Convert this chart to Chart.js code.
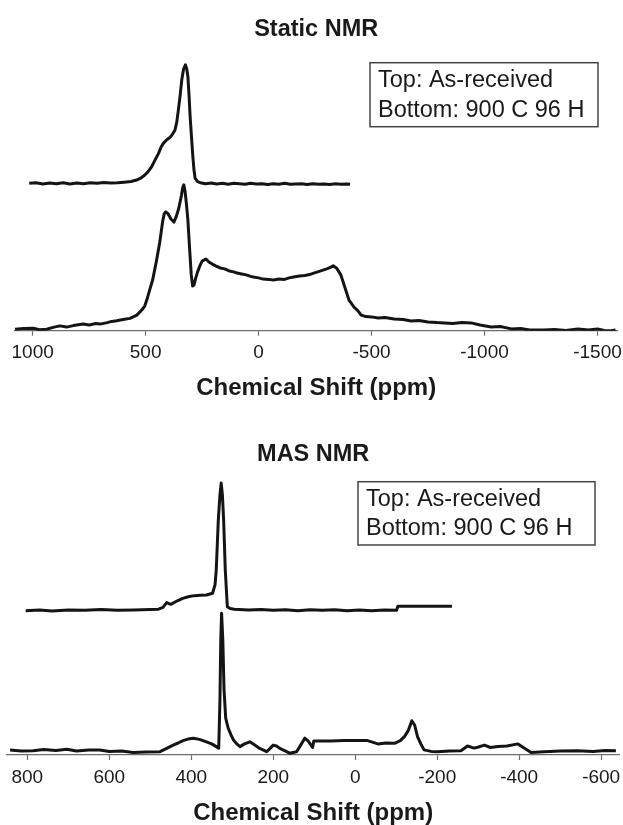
<!DOCTYPE html>
<html>
<head>
<meta charset="utf-8">
<script src="https://cdn.jsdelivr.net/npm/chart.js@4.4.1/dist/chart.umd.min.js"></script>
<style>
  html, body { margin: 0; padding: 0; background: #fff; overflow: hidden; }
  #staticWrap { position: absolute; left: 0; top: 0; width: 623px; height: 410px; }
  #masWrap { position: absolute; left: 0; top: 410px; width: 623px; height: 420px; }
</style>
</head>
<body>
<div id="staticWrap"><canvas id="staticChart" width="623" height="410"></canvas></div>
<div id="masWrap"><canvas id="masChart" width="623" height="420"></canvas></div>
<script>
// [ppm, intensity (a.u., traces offset vertically)]
var staticAsReceived = [
  [1015, 49.1], [985, 49.3], [955, 48.9], [925, 49.2], [895, 49.0], [865, 49.3], [835, 48.9], [805, 49.2],
  [775, 49.0], [745, 49.3], [715, 49.1], [685, 49.4], [655, 49.2], [625, 49.3], [595, 49.5], [565, 49.7],
  [540, 50.2], [520, 50.9], [505, 51.8], [490, 52.9], [473, 54.7], [458, 56.9], [443, 59.1], [432, 61.1],
  [421, 62.5], [405, 63.7], [391, 64.5], [380, 65.6], [370, 66.9], [362, 69.6], [355, 73.6], [347, 78.6],
  [340, 83.6], [332, 87.2], [324, 88.6], [318, 87.2], [313, 84.7], [308, 78.6], [303, 71.3], [297, 64.6],
  [291, 58.0], [286, 53.6], [281, 50.8], [270, 49.7], [258, 49.3], [235, 49.0], [210, 49.2], [185, 48.9],
  [160, 49.1], [135, 48.8], [110, 49.1], [85, 49.0], [60, 48.8], [35, 49.1], [10, 48.9], [-15, 49.0],
  [-40, 48.7], [-65, 49.0], [-90, 48.8], [-115, 49.1], [-140, 48.8], [-165, 48.9], [-190, 49.0], [-215, 48.7],
  [-240, 49.0], [-265, 48.8], [-290, 48.9], [-315, 48.7], [-340, 49.0], [-365, 48.8], [-390, 48.9], [-405, 48.8]
];

var staticHeated = [
  [1078, 0.5], [1040, 0.7], [997, 0.8], [970, 0.3], [938, 0.5], [910, 1.1], [879, 1.6], [850, 1.2],
  [820, 1.7], [777, 2.2], [750, 1.9], [720, 2.4], [702, 2.2], [670, 2.7], [650, 3.1], [628, 3.3],
  [600, 3.7], [569, 4.1], [539, 5.2], [517, 6.9], [504, 8.2], [495, 10.2], [482, 13.6], [469, 16.9],
  [453, 22.9], [438, 29.2], [425, 36.2], [418, 38.9], [411, 39.6], [400, 38.9], [388, 37.2], [375, 36.2],
  [365, 37.9], [353, 40.9], [342, 44.9], [336, 47.6], [331, 48.6], [325, 46.2], [319, 41.9], [313, 36.9],
  [305, 26.9], [298, 18.6], [292, 14.9], [286, 15.2], [278, 17.6], [270, 19.6], [260, 21.6], [250, 23.2],
  [240, 23.6], [233, 23.9], [220, 22.9], [205, 22.2], [190, 21.6], [170, 20.9], [150, 20.6], [130, 19.9],
  [110, 19.6], [95, 19.2], [75, 18.9], [55, 18.6], [35, 18.1], [23, 17.9], [0, 17.6], [-20, 17.2],
  [-45, 17.1], [-66, 16.9], [-90, 17.2], [-115, 17.1], [-135, 17.6], [-155, 17.9], [-180, 18.2], [-205, 18.4],
  [-225, 18.7], [-244, 19.2], [-265, 19.7], [-285, 20.2], [-305, 20.7], [-320, 21.2], [-330, 21.6], [-345, 20.9],
  [-364, 18.6], [-380, 14.9], [-400, 10.2], [-410, 9.2], [-422, 7.9], [-440, 6.6], [-454, 5.2], [-475, 4.7],
  [-500, 4.6], [-529, 4.2], [-560, 4.4], [-600, 3.9], [-640, 3.7], [-675, 3.2], [-710, 3.4], [-750, 2.9],
  [-790, 2.7], [-821, 2.6], [-860, 2.4], [-900, 2.7], [-941, 2.6], [-980, 1.9], [-1030, 1.2], [-1070, 1.4],
  [-1119, 0.6], [-1160, 0.7], [-1200, 0.2], [-1264, 0.2], [-1310, 0.4], [-1360, 0.1], [-1414, 0.6], [-1460, 0.2],
  [-1500, 0.6], [-1530, 0.1], [-1560, 0.0], [-1580, 0.2]
];

var masAsReceived = [
  [804, 48.1], [770, 48.3], [740, 48.0], [700, 48.3], [660, 48.2], [620, 48.5], [580, 48.2], [540, 48.3],
  [500, 48.5], [480, 48.6], [469, 49.2], [460, 50.8], [450, 50.2], [435, 51.3], [421, 52.2], [405, 52.8],
  [392, 53.1], [378, 53.2], [363, 53.3], [348, 53.9], [342, 56.7], [339, 61.7], [334, 78.3], [330, 86.7],
  [327, 90.6], [324, 86.7], [321, 78.3], [317, 61.7], [312, 49.4], [305, 48.8], [295, 48.6], [260, 48.3],
  [230, 48.5], [200, 48.2], [170, 48.4], [140, 48.1], [110, 48.4], [80, 48.2], [50, 48.4], [20, 48.1],
  [-10, 48.3], [-40, 48.1], [-70, 48.3], [-101, 48.2], [-104, 49.6], [-236, 49.6]
];

var masHeated = [
  [842, 1.7], [815, 1.3], [786, 1.4], [760, 1.8], [730, 1.5], [704, 1.9], [680, 1.3], [650, 1.7],
  [623, 1.7], [600, 1.2], [570, 1.3], [542, 0.8], [510, 1.0], [476, 1.1], [460, 2.2], [444, 3.3],
  [432, 4.0], [420, 4.8], [408, 5.3], [395, 5.6], [380, 5.2], [363, 4.4], [350, 3.7], [339, 2.8],
  [333, 2.3], [330, 18.3], [328, 38.3], [326, 47.2], [323, 38.3], [320, 21.7], [316, 12.3], [310, 9.0],
  [303, 6.7], [297, 5.0], [289, 3.7], [281, 2.8], [270, 3.7], [257, 4.4], [245, 3.3], [233, 2.2],
  [216, 1.1], [207, 2.3], [200, 3.3], [192, 3.0], [184, 2.2], [170, 1.3], [160, 0.6], [143, 1.1],
  [133, 3.3], [123, 5.6], [115, 4.7], [110, 3.7], [104, 2.5], [101, 4.7], [60, 4.7], [27, 4.8],
  [-10, 4.8], [-30, 4.8], [-42, 4.3], [-55, 3.7], [-75, 4.0], [-96, 3.9], [-110, 4.8], [-120, 6.1],
  [-130, 8.3], [-138, 11.4], [-145, 10.0], [-152, 6.1], [-160, 3.7], [-168, 1.7], [-185, 1.2], [-200, 1.1],
  [-230, 1.3], [-258, 1.4], [-274, 3.0], [-290, 2.3], [-299, 2.6], [-315, 3.3], [-330, 2.5], [-348, 2.8],
  [-370, 3.0], [-397, 3.7], [-412, 2.3], [-429, 0.8], [-461, 1.1], [-500, 1.3], [-543, 1.4], [-580, 1.2],
  [-610, 1.5], [-636, 1.4]
];

var staticTicks = [-1500, -1000, -500, 0, 500, 1000];
var masTicks = [-600, -400, -200, 0, 200, 400, 600, 800];
var legendLines = ['Top: As-received', 'Bottom: 900 C 96 H'];
var xTitle = 'Chemical Shift (ppm)';

Chart.defaults.font.family = '"Liberation Sans", Arial, Helvetica, sans-serif';
Chart.defaults.color = '#1a1a1a';

var ink = '#141414';
var axisGrey = '#6e6e6e';

function toPoints(arr) {
  return arr.map(function (p) { return { x: p[0], y: p[1] }; });
}

// boxed two-line note, drawn in canvas pixels
var boxNote = {
  id: 'boxNote',
  afterDraw: function (chart, args, o) {
    var ctx = chart.ctx;
    ctx.save();
    ctx.strokeStyle = '#444';
    ctx.lineWidth = 1.5;
    ctx.strokeRect(o.x, o.y, o.w, o.h);
    ctx.fillStyle = '#1a1a1a';
    ctx.font = '23.5px "Liberation Sans", Arial, sans-serif';
    ctx.textBaseline = 'alphabetic';
    o.lines.forEach(function (t, i) {
      ctx.fillText(t, o.textX, o.y + o.firstBase + i * o.gap);
    });
    ctx.restore();
  }
};

function makeChart(id, title, sets, xr, yMax, pad, titlePad, axisTitlePad, note) {
  return new Chart(document.getElementById(id), {
    type: 'line',
    data: {
      datasets: sets.map(function (s) {
        return {
          data: toPoints(s),
          borderColor: ink,
          borderWidth: 3,
          pointRadius: 0,
          tension: 0,
          fill: false,
          borderJoinStyle: 'round'
        };
      })
    },
    options: {
      responsive: false,
      animation: false,
      layout: { padding: pad },
      plugins: {
        legend: { display: false },
        tooltip: { enabled: false },
        title: {
          display: true,
          text: title,
          color: '#1a1a1a',
          font: { size: 23.5, weight: 'bold' },
          padding: titlePad
        },
        boxNote: note
      },
      scales: {
        x: {
          type: 'linear',
          reverse: true,
          min: xr.min,
          max: xr.max,
          afterBuildTicks: function (scale) {
            scale.ticks = xr.ticks.map(function (v) { return { value: v }; });
          },
          border: { display: true, color: axisGrey, width: 1.2 },
          grid: { display: true, drawOnChartArea: false, drawTicks: true, tickLength: 5, color: axisGrey, tickWidth: 1.2 },
          ticks: {
            autoSkip: false,
            maxRotation: 0,
            padding: 6,
            color: '#1a1a1a',
            font: { size: 19 },
            callback: function (v) { return String(v); }
          },
          title: {
            display: true,
            text: xTitle,
            color: '#1a1a1a',
            font: { size: 24, weight: 'bold' },
            padding: axisTitlePad
          }
        },
        y: { display: false, min: 0, max: yMax }
      }
    },
    plugins: [boxNote]
  });
}

makeChart('staticChart', 'Static NMR', [staticAsReceived, staticHeated],
  { min: -1590, max: 1080, ticks: staticTicks }, 94,
  { left: 14.6, right: 5.2, top: 0, bottom: 7.6 },
  { top: 15.9, bottom: 4.5 },
  { top: 3.1, bottom: 0 },
  { x: 370, y: 62.7, w: 228, h: 64, textX: 378, firstBase: 24, gap: 30, lines: legendLines });

makeChart('masChart', 'MAS NMR', [masAsReceived, masHeated],
  { min: -645, max: 850, ticks: masTicks }, 93.2,
  { left: 6.8, right: 3.4, top: 0, bottom: 2.6 },
  { top: 30.9, bottom: 6.2 },
  { top: 3.8, bottom: 0 },
  { x: 358, y: 71.7, w: 237, h: 63.3, textX: 366, firstBase: 24.3, gap: 28.7, lines: legendLines });
</script>
</body>
</html>
